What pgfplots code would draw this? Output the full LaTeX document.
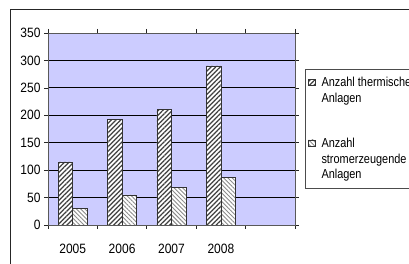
\documentclass[border=0pt]{standalone}
\usepackage{fontspec}
\setmainfont{Liberation Sans}[FakeStretch=0.89]
\newfontfamily\legfont{Liberation Sans}[FakeStretch=0.84]
\usepackage{pgfplots}
\pgfplotsset{compat=1.18}
\usetikzlibrary{patterns.meta}
\definecolor{plotbg}{RGB}{204,204,255}
\begin{document}
\begin{tikzpicture}[x=1pt,y=1pt]
\path[use as bounding box] (0,0) rectangle (409,264);
\clip (0,0) rectangle (409,264);
\fill[white] (0,0) rectangle (409,264);
\draw[line width=0.9pt, black!85] (10,-2) -- (10,255) -- (411,255);
\begin{axis}[
  at={(48pt,39pt)}, anchor=south west,
  scale only axis, width=247pt, height=192pt,
  ybar=0pt, bar width=14.5pt,
  xmin=-0.5, xmax=4.5, ymin=0, ymax=350,
  xtick={0,1,2,3}, xticklabels={2005,2006,2007,2008},
  major x tick style={draw=none},
  minor xtick={-0.5,0.5,1.5,2.5,3.5,4.5},
  ytick={0,50,100,150,200,250,300},
  extra y ticks={350}, extra y tick labels={350},
  extra y tick style={grid=none},
  ymajorgrids, grid style={black, line width=0.8pt},
  tick align=outside, major tick length=4pt, minor tick length=4pt,
  tick style={black!85, line width=0.7pt},
  axis line style={draw=gray!70!black, line width=0.7pt},
  axis background/.style={fill=plotbg},
  /pgf/number format/assume math mode=true,
  ticklabel style={font=\fontsize{13.5}{15}\selectfont},
  xticklabel style={yshift=-12pt},
  legend style={at={(1.0405,0.8125)}, anchor=north west,
    draw=gray!60!black, line width=0.8pt, fill=white,
    inner xsep=3pt, inner ysep=6pt, row sep=0.5pt,
    cells={anchor=base west},
    font=\legfont\fontsize{13}{16.5}\selectfont, column sep=4pt},
  legend image code/.code={\draw[#1, bar width=0pt, bar shift=0pt] (0pt,1.2pt) rectangle (6.5pt,7.7pt);},
]
\addplot[draw=black!80, line width=0.6pt, fill=white,
  postaction={pattern={Lines[angle=45,distance=3.3pt,line width=1.2pt]}, pattern color=black!75}]
  coordinates {(0,115) (1,193) (2,210) (3,290)};
\addlegendentry{Anzahl thermische}
\addlegendimage{empty legend}
\addlegendentry{Anlagen}
\addlegendimage{empty legend}
\addlegendentry{\rule{0pt}{24pt}}
\addplot[draw=black!80, line width=0.6pt, fill=white,
  postaction={pattern={Lines[angle=-45,distance=3pt,line width=0.9pt]}, pattern color=black!45}]
  coordinates {(0,30) (1,55) (2,68) (3,87)};
\addlegendentry{Anzahl}
\addlegendimage{empty legend}
\addlegendentry{stromerzeugende}
\addlegendimage{empty legend}
\addlegendentry{Anlagen}
\end{axis}
\end{tikzpicture}
\end{document}
